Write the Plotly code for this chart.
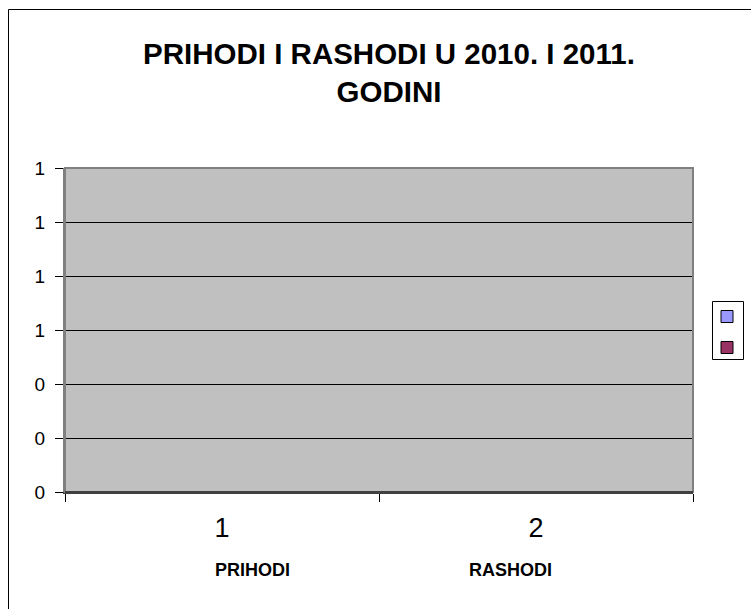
import plotly.graph_objects as go

categories = ["1", "2"]
category_names = ["PRIHODI", "RASHODI"]
series_names = ["", ""]
series_2010 = [0, 0]
series_2011 = [0, 0]
series_colors = ["#9999FF", "#993366"]
y_tick_values = [0, 0.2, 0.4, 0.6, 0.8, 1.0, 1.2]
title_text = "PRIHODI I RASHODI U 2010. I 2011.<br>GODINI"

FONT = "Liberation Sans, Arial, sans-serif"

fig = go.Figure()
for i, vals in enumerate([series_2010, series_2011]):
    fig.add_trace(go.Bar(
        x=categories, y=vals, name=series_names[i],
        marker=dict(color=series_colors[i], line=dict(color="#000000", width=1)),
        legendgroup="g%d" % i, showlegend=True,
    ))

W, H = 751, 609
L, T = 65, 168
R = W - 693
B = H - 492
pw, ph = W - L - R, H - T - B

def px_x(p):
    return (p - L) / pw

def px_y(p):
    return (H - B - p) / ph

annotations = []
label_centers = [252, 511]
for i, name in enumerate(category_names):
    annotations.append(dict(
        x=px_x(label_centers[i]), xref="paper", y=0, yref="paper",
        text="<b>%s</b>" % name, showarrow=False,
        font=dict(family=FONT, size=18, color="#000000"),
        xanchor="center", yanchor="middle", yshift=-(570 - 492),
    ))

fig.update_layout(
    width=W, height=H,
    margin=dict(l=L, r=R, t=T, b=B, pad=0),
    paper_bgcolor="#FFFFFF",
    plot_bgcolor="#C0C0C0",
    barmode="group",
    title=dict(
        text="<b>%s</b>" % title_text,
        font=dict(family=FONT, size=29.5, color="#000000"),
        x=389 / W, xanchor="center", xref="container",
        y=1 - 64 / H, yanchor="top", yref="container",
    ),
    font=dict(family=FONT, color="#000000"),
    xaxis=dict(
        type="category", tickson="boundaries",
        ticks="outside", ticklen=8, tickcolor="#000000", tickwidth=1,
        showline=True, linecolor="#404040", linewidth=2,
        showgrid=False, zeroline=False,
        tickfont=dict(family=FONT, size=27, color="#000000"),
        ticklabelstandoff=11,
    ),
    yaxis=dict(
        range=[0, 1.2], tickvals=y_tick_values, tickformat=".0f",
        ticks="outside", ticklen=8, tickcolor="#000000", tickwidth=1,
        showline=True, linecolor="#808080", linewidth=2,
        showgrid=True, gridcolor="#000000", gridwidth=1,
        zeroline=False,
        tickfont=dict(family=FONT, size=19, color="#000000"),
        ticklabelstandoff=6,
    ),
    legend=dict(
        xref="container", yref="container",
        x=(727 - 20) / W, y=1 - 302 / H, xanchor="left", yanchor="top",
        bgcolor="rgba(0,0,0,0)", borderwidth=0,
        font=dict(family=FONT, size=10),
        tracegroupgap=12,
    ),
    annotations=annotations,
    shapes=[
        dict(type="rect", xref="paper", yref="paper", x0=0, x1=1, y0=0, y1=1,
             line=dict(color="#808080", width=2), layer="above"),
        dict(type="line", xref="paper", yref="paper", x0=0, x1=1, y0=0, y1=0,
             line=dict(color="#404040", width=2), layer="above"),
        # legend frame
        dict(type="rect", xref="paper", yref="paper",
             x0=px_x(712.5), x1=px_x(743.5), y0=px_y(359.5), y1=px_y(301.5),
             line=dict(color="#000000", width=1), fillcolor="#FFFFFF", layer="below"),
        # chart frame
        dict(type="line", xref="paper", yref="paper", x0=px_x(8.5), x1=px_x(800),
             y0=px_y(9.5), y1=px_y(9.5), line=dict(color="#000000", width=1)),
        dict(type="line", xref="paper", yref="paper", x0=px_x(8.5), x1=px_x(8.5),
             y0=px_y(9.5), y1=px_y(700), line=dict(color="#000000", width=1)),
    ],
)

fig.write_html(
    "out.html",
    config={"displayModeBar": False},
    post_script="document.body.style.margin='0';document.body.style.overflow='hidden';",
)
